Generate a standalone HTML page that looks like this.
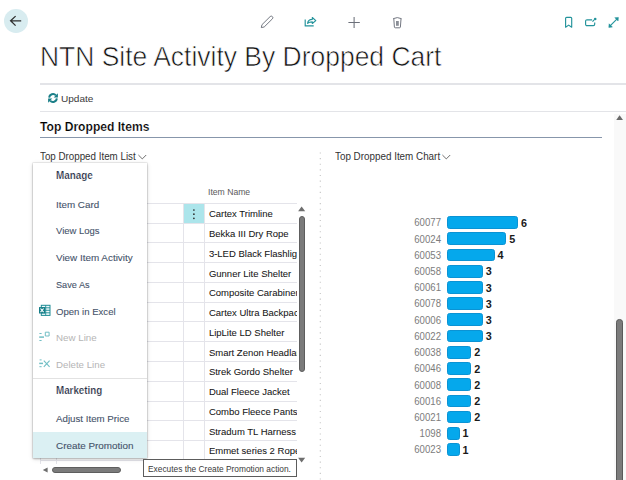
<!DOCTYPE html>
<html><head><meta charset="utf-8">
<style>
*{margin:0;padding:0;box-sizing:border-box}
html,body{width:626px;height:480px;overflow:hidden;background:#fff;font-family:"Liberation Sans",sans-serif;color:#212121;position:relative}
.a{position:absolute}
.t{position:absolute;white-space:nowrap;line-height:1}
</style></head><body>
<div class="a" style="left:3.8px;top:9px;width:23.8px;height:23.8px;border-radius:50%;background:#d8ecf0"></div>
<svg class="a" style="left:0;top:0" width="32" height="40" viewBox="0 0 32 40"><path d="M21.2 20.8H10.6M15.6 16.1L10.6 20.8L15.6 25.6" fill="none" stroke="#2e2e2e" stroke-width="1.3"/></svg>
<svg class="a" style="left:0;top:0" width="626" height="40" viewBox="0 0 626 40">
<g fill="none" stroke="#6c707a" stroke-width="0.95" stroke-linejoin="round">
<path d="M261.3 27.6L261.96 24.7L270.18 16.56A1.6 1.6 0 0 1 272.42 18.84L264.2 26.98Z"/>
<path d="M393.1 18.7Q397.3 16.5 401.6 18.7M393.8 18.9L394.4 27Q394.5 27.8 395.3 27.8H399.5Q400.3 27.8 400.4 27L401 18.9"/>
</g>
<path d="M354.1 16.9v11M348.4 22.4h11.4" fill="none" stroke="#6c707a" stroke-width="1.05"/>
<rect x="396" y="21" width="2.8" height="4.8" fill="#8a8e96"/>
<g fill="none" stroke="#23939b" stroke-width="1.15" stroke-linejoin="round">
<path d="M305.2 19.6V25.9H313.7"/>
<path d="M307.6 23.3C307.9 20.7 309.6 19.3 312.3 19.3V17.5L315.8 20.6L312.3 23.5V21.9C310.3 21.9 308.7 22.4 307.6 23.3Z"/>
<path d="M565.6 18.3v8.9l3.05-2.1l3.05 2.1v-8.9q0-1-1-1h-4.1q-1 0-1 1Z"/>
<path d="M592.1 19.8H587a1.4 1.4 0 0 0-1.4 1.4v3.1a1.4 1.4 0 0 0 1.4 1.4h6.3a1.4 1.4 0 0 0 1.4-1.4V22.4M592.5 21.7L594.1 19.9"/>
<path d="M609.6 26.4L617.6 18.4"/>
</g>
<circle cx="595.2" cy="19.0" r="1.3" fill="#23939b"/>
<path d="M618.4 17.4l-0.3 3.6l-3.3-3.3Z M608.8 27.4l0.3-3.6l3.3 3.3Z" fill="#23939b" stroke="#23939b" stroke-width="0.5" stroke-linejoin="round"/>
</svg>
<div class="t" style="left:39.83px;top:42.44px;font-size:28.3px;color:#111;font-weight:normal;transform:scaleX(0.935);transform-origin:0 0;-webkit-text-stroke:0.65px #fff;">NTN Site Activity By Dropped Cart</div>
<div class="a" style="left:40px;top:83px;width:586px;height:1.6px;background:#e3e4e8"></div>
<svg class="a" style="left:47px;top:92px" width="12" height="12" viewBox="0 0 12 12">
<path d="M2.2 5.6A3.8 3.8 0 0 1 8.9 3.4 M9.8 6.4A3.8 3.8 0 0 1 3.1 8.6" fill="none" stroke="#1b7f88" stroke-width="1.9"/>
<path d="M10.9 1.2v4.2H6.7Z M1.1 10.8V6.6h4.2Z" fill="#1b7f88"/></svg>
<div class="t" style="left:61.03px;top:93.87px;font-size:9.6px;color:#3a3a3a;font-weight:normal;transform:scaleX(1.047);transform-origin:0 0;">Update</div>
<div class="a" style="left:40px;top:110.5px;width:586px;height:1.5px;background:#e3e4e8"></div>
<div class="t" style="left:40.27px;top:121.13px;font-size:12.6px;color:#000;font-weight:bold;transform:scaleX(0.961);transform-origin:0 0;-webkit-text-stroke:0.2px #fff;">Top Dropped Items</div>
<div class="a" style="left:40px;top:136.8px;width:562px;height:1.2px;background:#8796ab"></div>
<div class="t" style="left:39.78px;top:152.13px;font-size:10px;color:#333;font-weight:normal;transform:scaleX(0.978);transform-origin:0 0;">Top Dropped Item List</div>
<svg class="a" style="left:137.5px;top:153.8px" width="9" height="6" viewBox="0 0 9 6"><path d="M0.4 1.0l3.9 3.9L8.2 1.0" fill="none" stroke="#555" stroke-width="0.85"/></svg>
<div class="t" style="left:334.98px;top:152.13px;font-size:10px;color:#333;font-weight:normal;transform:scaleX(0.985);transform-origin:0 0;">Top Dropped Item Chart</div>
<svg class="a" style="left:441.8px;top:153.8px" width="9" height="6" viewBox="0 0 9 6"><path d="M0.4 1.0l3.9 3.9L8.2 1.0" fill="none" stroke="#555" stroke-width="0.85"/></svg>
<svg class="a" style="left:318px;top:148px" width="5" height="332" viewBox="0 0 5 332"><line x1="2.3" y1="4.5" x2="2.3" y2="332" stroke="#c4c4c4" stroke-width="1.1" stroke-dasharray="1.1 4.52"/></svg>
<div class="t" style="left:208.11px;top:188.22px;font-size:8.6px;color:#5a5a5a;font-weight:normal;transform:scaleX(1.003);transform-origin:0 0;">Item Name</div>
<div class="a" style="left:40px;top:202.90px;width:256.7px;height:1px;background:#e4e4ea"></div>
<div class="a" style="left:40px;top:222.66px;width:256.7px;height:1px;background:#e4e4ea"></div>
<div class="a" style="left:40px;top:242.42px;width:256.7px;height:1px;background:#e4e4ea"></div>
<div class="a" style="left:40px;top:262.18px;width:256.7px;height:1px;background:#e4e4ea"></div>
<div class="a" style="left:40px;top:281.94px;width:256.7px;height:1px;background:#e4e4ea"></div>
<div class="a" style="left:40px;top:301.70px;width:256.7px;height:1px;background:#e4e4ea"></div>
<div class="a" style="left:40px;top:321.46px;width:256.7px;height:1px;background:#e4e4ea"></div>
<div class="a" style="left:40px;top:341.22px;width:256.7px;height:1px;background:#e4e4ea"></div>
<div class="a" style="left:40px;top:360.98px;width:256.7px;height:1px;background:#e4e4ea"></div>
<div class="a" style="left:40px;top:380.74px;width:256.7px;height:1px;background:#e4e4ea"></div>
<div class="a" style="left:40px;top:400.50px;width:256.7px;height:1px;background:#e4e4ea"></div>
<div class="a" style="left:40px;top:420.26px;width:256.7px;height:1px;background:#e4e4ea"></div>
<div class="a" style="left:40px;top:440.02px;width:256.7px;height:1px;background:#e4e4ea"></div>
<div class="a" style="left:40px;top:459.78px;width:256.7px;height:1px;background:#e4e4ea"></div>
<div class="a" style="left:40.00px;top:203.4px;width:1px;height:261.1px;background:#e4e4ea"></div>
<div class="a" style="left:56.20px;top:203.4px;width:1px;height:261.1px;background:#e4e4ea"></div>
<div class="a" style="left:183.00px;top:203.4px;width:1px;height:261.1px;background:#e4e4ea"></div>
<div class="a" style="left:204.20px;top:203.4px;width:1px;height:261.1px;background:#e4e4ea"></div>
<div class="a" style="left:184px;top:203.9px;width:20.4px;height:18.76px;background:#ace5eb"></div>
<svg class="a" style="left:191px;top:207px" width="6" height="14" viewBox="0 0 6 14"><circle cx="2.9" cy="3.0" r="0.85" fill="#2a2a2a"/><circle cx="2.9" cy="7.2" r="0.85" fill="#2a2a2a"/><circle cx="2.9" cy="11.3" r="0.85" fill="#2a2a2a"/></svg>
<div class="a" style="left:205px;top:200px;width:91.7px;height:280px;overflow:hidden">
<div class="t" style="left:3.90px;top:9.36px;font-size:9.5px;color:#161616;font-weight:normal;-webkit-text-stroke:0.06px #161616;">Cartex Trimline</div>
<div class="t" style="left:3.90px;top:29.12px;font-size:9.5px;color:#161616;font-weight:normal;-webkit-text-stroke:0.06px #161616;">Bekka III Dry Rope</div>
<div class="t" style="left:3.90px;top:48.88px;font-size:9.5px;color:#161616;font-weight:normal;-webkit-text-stroke:0.06px #161616;">3-LED Black Flashlight</div>
<div class="t" style="left:3.90px;top:68.64px;font-size:9.5px;color:#161616;font-weight:normal;-webkit-text-stroke:0.06px #161616;">Gunner Lite Shelter</div>
<div class="t" style="left:3.90px;top:88.40px;font-size:9.5px;color:#161616;font-weight:normal;-webkit-text-stroke:0.06px #161616;">Composite Carabiner</div>
<div class="t" style="left:3.90px;top:108.16px;font-size:9.5px;color:#161616;font-weight:normal;-webkit-text-stroke:0.06px #161616;">Cartex Ultra Backpack</div>
<div class="t" style="left:3.90px;top:127.92px;font-size:9.5px;color:#161616;font-weight:normal;-webkit-text-stroke:0.06px #161616;">LipLite LD Shelter</div>
<div class="t" style="left:3.90px;top:147.68px;font-size:9.5px;color:#161616;font-weight:normal;-webkit-text-stroke:0.06px #161616;">Smart Zenon Headlamp</div>
<div class="t" style="left:3.90px;top:167.44px;font-size:9.5px;color:#161616;font-weight:normal;-webkit-text-stroke:0.06px #161616;">Strek Gordo Shelter</div>
<div class="t" style="left:3.90px;top:187.20px;font-size:9.5px;color:#161616;font-weight:normal;-webkit-text-stroke:0.06px #161616;">Dual Fleece Jacket</div>
<div class="t" style="left:3.90px;top:206.96px;font-size:9.5px;color:#161616;font-weight:normal;-webkit-text-stroke:0.06px #161616;">Combo Fleece Pants</div>
<div class="t" style="left:3.90px;top:226.72px;font-size:9.5px;color:#161616;font-weight:normal;-webkit-text-stroke:0.06px #161616;">Stradum TL Harness</div>
<div class="t" style="left:3.90px;top:246.48px;font-size:9.5px;color:#161616;font-weight:normal;-webkit-text-stroke:0.06px #161616;">Emmet series 2 Rope</div>
</div>
<svg class="a" style="left:297px;top:205px" width="10" height="262" viewBox="0 0 10 262"><path d="M4.6 1.5L8.2 6.2H1.1Z" fill="#6e6e6e"/><path d="M4.6 257.5L8.2 252.8H1.1Z" fill="#6e6e6e"/></svg>
<div class="a" style="left:298.8px;top:215.8px;width:5.8px;height:156px;border-radius:3px;background:#7b7b7b;border:0.5px solid #5e5e5e"></div>
<svg class="a" style="left:40px;top:463px" width="10" height="12" viewBox="0 0 10 12"><path d="M2.8 7L7.6 4.4V9.6Z" fill="#6e6e6e"/></svg>
<div class="a" style="left:52.3px;top:466.7px;width:68.8px;height:6px;border-radius:3px;background:#7b7b7b;border:0.6px solid #5e5e5e"></div>
<div class="a" style="left:33px;top:163px;width:113.5px;height:294.5px;background:#fff;box-shadow:0 0 0 0.6px rgba(0,0,0,.10),0 0.5px 2px rgba(0,0,0,.22),0 1px 5px rgba(0,0,0,.12)">
<div class="a" style="left:0;top:268.75px;width:113.5px;height:25.75px;background:#dbf0f3"></div>
<div class="a" style="left:0;top:215.00px;width:113.5px;height:1px;background:#e2e2e2"></div>
<div class="t" style="left:22.84px;top:8.27px;font-size:10.2px;color:#1e2b42;font-weight:bold;transform:scaleX(0.969);transform-origin:0 0;-webkit-text-stroke:0.2px #fff;">Manage</div>
<div class="t" style="left:22.60px;top:36.60px;font-size:9.8px;color:#45536a;font-weight:normal;transform:scaleX(1.003);transform-origin:0 0;-webkit-text-stroke:0.1px #45536a;">Item Card</div>
<div class="t" style="left:23.46px;top:63.20px;font-size:9.8px;color:#45536a;font-weight:normal;transform:scaleX(0.968);transform-origin:0 0;-webkit-text-stroke:0.1px #45536a;">View Logs</div>
<div class="t" style="left:23.46px;top:89.90px;font-size:9.8px;color:#45536a;font-weight:normal;transform:scaleX(1.008);transform-origin:0 0;-webkit-text-stroke:0.1px #45536a;">View Item Activity</div>
<div class="t" style="left:23.09px;top:116.80px;font-size:9.8px;color:#45536a;font-weight:normal;transform:scaleX(0.936);transform-origin:0 0;-webkit-text-stroke:0.1px #45536a;">Save As</div>
<div class="t" style="left:23.05px;top:143.60px;font-size:9.8px;color:#45536a;font-weight:normal;transform:scaleX(0.977);transform-origin:0 0;-webkit-text-stroke:0.1px #45536a;">Open in Excel</div>
<div class="t" style="left:22.70px;top:170.20px;font-size:9.8px;color:#b5b5b5;font-weight:normal;transform:scaleX(0.997);transform-origin:0 0;">New Line</div>
<div class="t" style="left:22.71px;top:196.90px;font-size:9.8px;color:#b5b5b5;font-weight:normal;transform:scaleX(0.989);transform-origin:0 0;">Delete Line</div>
<div class="t" style="left:22.84px;top:222.87px;font-size:10.2px;color:#1e2b42;font-weight:bold;transform:scaleX(0.961);transform-origin:0 0;-webkit-text-stroke:0.2px #fff;">Marketing</div>
<div class="t" style="left:23.48px;top:250.60px;font-size:9.8px;color:#45536a;font-weight:normal;transform:scaleX(0.993);transform-origin:0 0;-webkit-text-stroke:0.1px #45536a;">Adjust Item Price</div>
<div class="t" style="left:23.00px;top:277.60px;font-size:9.8px;color:#45536a;font-weight:normal;transform:scaleX(1.008);transform-origin:0 0;-webkit-text-stroke:0.1px #45536a;">Create Promotion</div>
</div>
<svg class="a" style="left:33px;top:300px" width="24" height="75" viewBox="33 300 24 75">
<rect x="41.3" y="305.3" width="8.7" height="10.1" fill="#f2fafb" stroke="#1f8c95" stroke-width="1"/>
<path d="M45.7 305.3v10.1M41.3 307.8h8.7M41.3 310.3h8.7M41.3 312.8h8.7" stroke="#1f8c95" stroke-width="0.9"/>
<rect x="39" y="307.1" width="6.1" height="6.4" fill="#147d87"/>
<path d="M40.5 308.5l3.1 3.7M43.6 308.5l-3.1 3.7" stroke="#fff" stroke-width="1.15"/>
<g fill="none" stroke="#72bfc5" stroke-width="1">
<path d="M45.3 332.2h3.8v3.8h-3.8z"/>
<path d="M39.4 333.5h2.2M39.4 340.5h2.2"/>
<path d="M39.2 337.1h4.8" stroke-width="1.5"/>
<path d="M39.6 359.9h2M39.4 366.7h2.2"/>
<path d="M39.2 363.4h3.8" stroke-width="1.5"/>
<path d="M43.8 360.6l5.8 6.2M49.6 360.6l-5.8 6.2" stroke-width="1.1"/>
</g></svg>
<div class="a" style="left:142.6px;top:459.4px;width:154.5px;height:17.6px;border:1.2px solid #5c5c5c;background:#fff"></div>
<div class="t" style="left:148.01px;top:464.75px;font-size:8.8px;color:#3a3a3a;font-weight:normal;transform:scaleX(0.949);transform-origin:0 0;">Executes the Create Promotion action.</div>
<div class="a" style="left:447.3px;top:216.20px;width:70.78px;height:12.7px;background:#05a8ec;border:1px solid #0b93d4;border-radius:2.6px"></div>
<div class="t" style="left:361.20px;width:80px;text-align:right;top:217.44px;font-size:10.7px;color:#7c7c7c;font-weight:normal;transform:scaleX(0.900);transform-origin:100% 0;">60077</div>
<div class="t" style="left:520.88px;top:217.66px;font-size:10.8px;color:#1a1a1a;font-weight:bold;">6</div>
<div class="a" style="left:447.3px;top:232.41px;width:59.10px;height:12.7px;background:#05a8ec;border:1px solid #0b93d4;border-radius:2.6px"></div>
<div class="t" style="left:361.20px;width:80px;text-align:right;top:233.65px;font-size:10.7px;color:#7c7c7c;font-weight:normal;transform:scaleX(0.900);transform-origin:100% 0;">60024</div>
<div class="t" style="left:509.20px;top:233.87px;font-size:10.8px;color:#1a1a1a;font-weight:bold;">5</div>
<div class="a" style="left:447.3px;top:248.62px;width:47.42px;height:12.7px;background:#05a8ec;border:1px solid #0b93d4;border-radius:2.6px"></div>
<div class="t" style="left:361.20px;width:80px;text-align:right;top:249.86px;font-size:10.7px;color:#7c7c7c;font-weight:normal;transform:scaleX(0.900);transform-origin:100% 0;">60053</div>
<div class="t" style="left:497.52px;top:250.08px;font-size:10.8px;color:#1a1a1a;font-weight:bold;">4</div>
<div class="a" style="left:447.3px;top:264.83px;width:35.74px;height:12.7px;background:#05a8ec;border:1px solid #0b93d4;border-radius:2.6px"></div>
<div class="t" style="left:361.20px;width:80px;text-align:right;top:266.07px;font-size:10.7px;color:#7c7c7c;font-weight:normal;transform:scaleX(0.900);transform-origin:100% 0;">60058</div>
<div class="t" style="left:485.84px;top:266.29px;font-size:10.8px;color:#1a1a1a;font-weight:bold;">3</div>
<div class="a" style="left:447.3px;top:281.04px;width:35.74px;height:12.7px;background:#05a8ec;border:1px solid #0b93d4;border-radius:2.6px"></div>
<div class="t" style="left:361.20px;width:80px;text-align:right;top:282.28px;font-size:10.7px;color:#7c7c7c;font-weight:normal;transform:scaleX(0.900);transform-origin:100% 0;">60061</div>
<div class="t" style="left:485.84px;top:282.50px;font-size:10.8px;color:#1a1a1a;font-weight:bold;">3</div>
<div class="a" style="left:447.3px;top:297.25px;width:35.74px;height:12.7px;background:#05a8ec;border:1px solid #0b93d4;border-radius:2.6px"></div>
<div class="t" style="left:361.20px;width:80px;text-align:right;top:298.49px;font-size:10.7px;color:#7c7c7c;font-weight:normal;transform:scaleX(0.900);transform-origin:100% 0;">60078</div>
<div class="t" style="left:485.84px;top:298.71px;font-size:10.8px;color:#1a1a1a;font-weight:bold;">3</div>
<div class="a" style="left:447.3px;top:313.46px;width:35.74px;height:12.7px;background:#05a8ec;border:1px solid #0b93d4;border-radius:2.6px"></div>
<div class="t" style="left:361.20px;width:80px;text-align:right;top:314.70px;font-size:10.7px;color:#7c7c7c;font-weight:normal;transform:scaleX(0.900);transform-origin:100% 0;">60006</div>
<div class="t" style="left:485.84px;top:314.92px;font-size:10.8px;color:#1a1a1a;font-weight:bold;">3</div>
<div class="a" style="left:447.3px;top:329.67px;width:35.74px;height:12.7px;background:#05a8ec;border:1px solid #0b93d4;border-radius:2.6px"></div>
<div class="t" style="left:361.20px;width:80px;text-align:right;top:330.91px;font-size:10.7px;color:#7c7c7c;font-weight:normal;transform:scaleX(0.900);transform-origin:100% 0;">60022</div>
<div class="t" style="left:485.84px;top:331.13px;font-size:10.8px;color:#1a1a1a;font-weight:bold;">3</div>
<div class="a" style="left:447.3px;top:345.88px;width:24.06px;height:12.7px;background:#05a8ec;border:1px solid #0b93d4;border-radius:2.6px"></div>
<div class="t" style="left:361.20px;width:80px;text-align:right;top:347.12px;font-size:10.7px;color:#7c7c7c;font-weight:normal;transform:scaleX(0.900);transform-origin:100% 0;">60038</div>
<div class="t" style="left:474.16px;top:347.34px;font-size:10.8px;color:#1a1a1a;font-weight:bold;">2</div>
<div class="a" style="left:447.3px;top:362.09px;width:24.06px;height:12.7px;background:#05a8ec;border:1px solid #0b93d4;border-radius:2.6px"></div>
<div class="t" style="left:361.20px;width:80px;text-align:right;top:363.33px;font-size:10.7px;color:#7c7c7c;font-weight:normal;transform:scaleX(0.900);transform-origin:100% 0;">60046</div>
<div class="t" style="left:474.16px;top:363.55px;font-size:10.8px;color:#1a1a1a;font-weight:bold;">2</div>
<div class="a" style="left:447.3px;top:378.30px;width:24.06px;height:12.7px;background:#05a8ec;border:1px solid #0b93d4;border-radius:2.6px"></div>
<div class="t" style="left:361.20px;width:80px;text-align:right;top:379.54px;font-size:10.7px;color:#7c7c7c;font-weight:normal;transform:scaleX(0.900);transform-origin:100% 0;">60008</div>
<div class="t" style="left:474.16px;top:379.76px;font-size:10.8px;color:#1a1a1a;font-weight:bold;">2</div>
<div class="a" style="left:447.3px;top:394.51px;width:24.06px;height:12.7px;background:#05a8ec;border:1px solid #0b93d4;border-radius:2.6px"></div>
<div class="t" style="left:361.20px;width:80px;text-align:right;top:395.75px;font-size:10.7px;color:#7c7c7c;font-weight:normal;transform:scaleX(0.900);transform-origin:100% 0;">60016</div>
<div class="t" style="left:474.16px;top:395.97px;font-size:10.8px;color:#1a1a1a;font-weight:bold;">2</div>
<div class="a" style="left:447.3px;top:410.72px;width:24.06px;height:12.7px;background:#05a8ec;border:1px solid #0b93d4;border-radius:2.6px"></div>
<div class="t" style="left:361.20px;width:80px;text-align:right;top:411.96px;font-size:10.7px;color:#7c7c7c;font-weight:normal;transform:scaleX(0.900);transform-origin:100% 0;">60021</div>
<div class="t" style="left:474.16px;top:412.18px;font-size:10.8px;color:#1a1a1a;font-weight:bold;">2</div>
<div class="a" style="left:447.3px;top:426.93px;width:12.38px;height:12.7px;background:#05a8ec;border:1px solid #0b93d4;border-radius:2.6px"></div>
<div class="t" style="left:361.20px;width:80px;text-align:right;top:428.17px;font-size:10.7px;color:#7c7c7c;font-weight:normal;transform:scaleX(0.900);transform-origin:100% 0;">1098</div>
<div class="t" style="left:462.48px;top:428.39px;font-size:10.8px;color:#1a1a1a;font-weight:bold;">1</div>
<div class="a" style="left:447.3px;top:443.14px;width:12.38px;height:12.7px;background:#05a8ec;border:1px solid #0b93d4;border-radius:2.6px"></div>
<div class="t" style="left:361.20px;width:80px;text-align:right;top:444.38px;font-size:10.7px;color:#7c7c7c;font-weight:normal;transform:scaleX(0.900);transform-origin:100% 0;">60023</div>
<div class="t" style="left:462.48px;top:444.60px;font-size:10.8px;color:#1a1a1a;font-weight:bold;">1</div>
<div class="a" style="left:614.2px;top:114px;width:11.8px;height:366px;background:#f9f9f9"></div>
<svg class="a" style="left:614px;top:112px" width="12" height="10" viewBox="0 0 12 10"><path d="M5.6 3.2L9 8H2.2Z" fill="#6a6a6a"/></svg>
<div class="a" style="left:616.2px;top:319px;width:6.6px;height:170px;border-radius:3.3px;background:#7b7b7b;border:0.6px solid #5a5a5a"></div>
</body></html>
